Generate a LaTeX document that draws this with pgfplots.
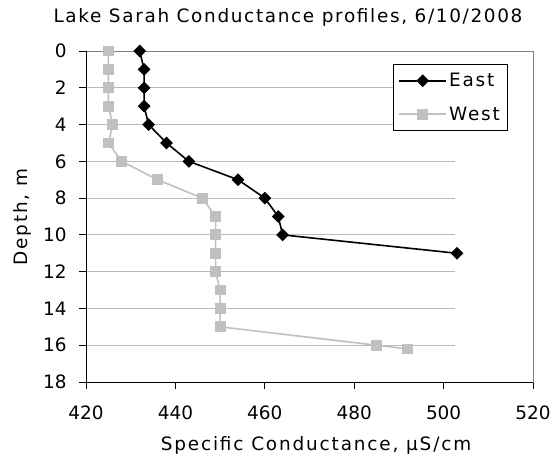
\documentclass[border=0pt]{standalone}
\usepackage{pgfplots}
\pgfplotsset{compat=1.18}
\usepackage{fontspec}
\setmainfont{DejaVu Sans}
\newfontfamily\spaced[LetterSpace=10]{DejaVu Sans}
\newfontfamily\titlefont[LetterSpace=9]{DejaVu Sans}
\definecolor{westgray}{RGB}{192,192,192}
\definecolor{gridgray}{RGB}{185,185,185}
\definecolor{bordergray}{RGB}{128,128,128}
\newcommand\chartfont{\fontsize{18.5}{22}\selectfont}
\begin{document}
\begin{tikzpicture}
\begin{axis}[
  scale only axis,
  width=447bp, height=331bp,
  xmin=420, xmax=520, ymin=0, ymax=18,
  y dir=reverse,
  xtick={420,440,...,520},
  ytick={0,2,...,18},
  tick align=outside,
  major tick length=7bp,
  xtick pos=bottom, ytick pos=left,
  tick style={black, line width=0.8bp},
  axis line style={bordergray, line width=0.8bp},
  font=\chartfont,
  /pgf/number format/assume math mode=true,
  xticklabel style={yshift=-13bp},
  yticklabel style={xshift=-9bp},
  legend style={at={(axis description cs:0.687,0.961)}, anchor=north west,
    draw=black, line width=0.8bp, inner xsep=5bp, inner ysep=7bp,
    row sep=14.5bp, font=\chartfont\spaced},
  legend cell align=left,
  legend image code/.code={\draw[mark repeat=2,mark phase=2] plot coordinates {(0bp,0bp) (23.5bp,0bp) (47bp,0bp)};},
]
% gridlines
\addplot[forget plot, gridgray, line width=1bp] coordinates {(420,2) (502.5,2)};
\addplot[forget plot, gridgray, line width=1bp] coordinates {(420,4) (502.5,4)};
\addplot[forget plot, gridgray, line width=1bp] coordinates {(420,6) (502.5,6)};
\addplot[forget plot, gridgray, line width=1bp] coordinates {(420,8) (502.5,8)};
\addplot[forget plot, gridgray, line width=1bp] coordinates {(420,10) (502.5,10)};
\addplot[forget plot, gridgray, line width=1bp] coordinates {(420,12) (502.5,12)};
\addplot[forget plot, gridgray, line width=1bp] coordinates {(420,14) (502.5,14)};
\addplot[forget plot, gridgray, line width=1bp] coordinates {(420,16) (502.5,16)};
% East
\addplot[black, line width=1.6bp, mark=square*, mark size=3.7bp, mark options={rotate=45, solid, fill=black}] coordinates {
(432,0) (433,1) (433,2) (433,3) (434,4) (438,5) (443,6) (454,7) (460,8) (463,9) (464,10) (503,11)};
\addlegendentry{East}
% West
\addplot[westgray, line width=1.6bp, mark=square*, mark size=4.6bp, mark options={solid, fill=westgray, draw=westgray}] coordinates {
(425,0) (425,1) (425,2) (425,3) (426,4) (425,5) (428,6) (436,7) (446,8) (449,9) (449,10) (449,11) (449,12) (450,13) (450,14) (450,15) (485,16) (492,16.2)};
\addlegendentry{West}
% black left and bottom axis lines
\draw[black, line width=1bp] (axis description cs:0,1) -- (axis description cs:0,0) -- (axis description cs:1,0);
\end{axis}
\node[font=\chartfont\titlefont, anchor=base] at ([shift={(202bp,359bp)}]current axis.south west) {Lake Sarah Conductance profiles, 6/10/2008};
\node[font=\chartfont\spaced, anchor=base] at ([shift={(230bp,-68.5bp)}]current axis.south west) {Specific Conductance, μS/cm};
\node[font=\chartfont\spaced, rotate=90] at ([shift={(-64bp,165bp)}]current axis.south west) {Depth, m};
\pgfresetboundingbox
\path (current axis.south west) ++(-86bp,-75bp) rectangle ([shift={(25bp,51bp)}]current axis.north east);
\end{tikzpicture}
\end{document}
